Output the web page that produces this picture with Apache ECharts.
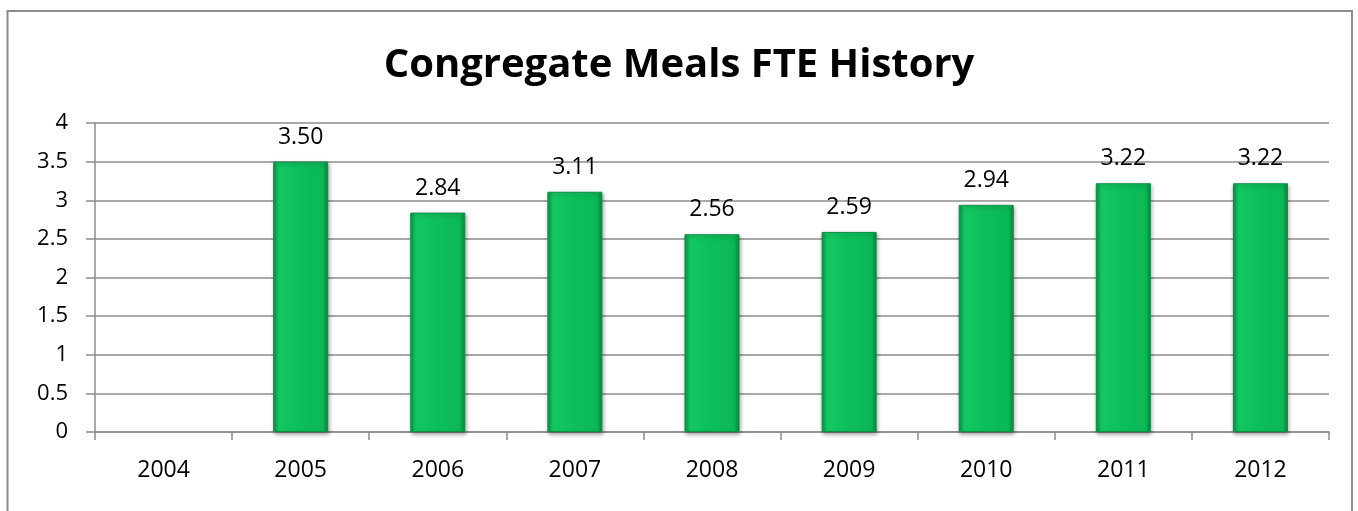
<!DOCTYPE html>
<html>
<head>
<meta charset="utf-8">
<script src="https://cdn.jsdelivr.net/npm/echarts@6/dist/echarts.min.js"></script>
<style>
html,body{margin:0;padding:0;background:#fff;}
#chart{width:1358px;height:511px;}
</style>
</head>
<body>
<div id="chart"></div>
<script>
const titleText = 'Congregate Meals FTE History';
const years = ['2004','2005','2006','2007','2008','2009','2010','2011','2012'];
const fte = [null, 3.50, 2.84, 3.11, 2.56, 2.59, 2.94, 3.22, 3.22];
const yTicks = {min: 0, max: 4, interval: 0.5};

const chart = echarts.init(document.getElementById('chart'));
const FONT = '"Open Sans", "Liberation Sans", sans-serif';
chart.setOption({
  animation: false,
  backgroundColor: '#ffffff',
  graphic: [{
    type: 'rect',
    shape: {x: 7.5, y: 11, width: 1344.5, height: 520},
    style: {fill: 'none', stroke: '#8c8c8c', lineWidth: 2},
    silent: true
  }],
  title: {
    text: titleText,
    left: 'center',
    top: 41,
    textStyle: {fontFamily: FONT, fontSize: 40, fontWeight: 'bold', color: '#000'}
  },
  grid: {left: 95, right: 29, top: 123, bottom: 79, containLabel: false},
  xAxis: {
    type: 'category',
    data: years,
    axisLine: {lineStyle: {color: '#8c8c8c', width: 1.5}},
    axisTick: {show: true, length: 8, alignWithLabel: false, lineStyle: {color: '#8c8c8c', width: 1.5}},
    axisLabel: {fontFamily: FONT, fontSize: 23, color: '#000', margin: 27}
  },
  yAxis: {
    type: 'value',
    min: yTicks.min, max: yTicks.max, interval: yTicks.interval,
    axisLine: {show: true, lineStyle: {color: '#8c8c8c', width: 1.5}},
    axisTick: {show: true, length: 9, lineStyle: {color: '#8c8c8c', width: 1.5}},
    axisLabel: {fontFamily: FONT, fontSize: 22, color: '#000', margin: 27},
    splitLine: {show: true, lineStyle: {color: '#8c8c8c', width: 1.5}}
  },
  series: [{
    type: 'bar',
    data: fte,
    barWidth: 55,
    itemStyle: {
      color: new echarts.graphic.LinearGradient(0, 0, 1, 0, [
        {offset: 0, color: '#0a9447'},
        {offset: 0.1, color: '#13c862'},
        {offset: 0.5, color: '#0dbf5b'},
        {offset: 0.9, color: '#0bb855'},
        {offset: 1, color: '#08893f'}
      ]),
      borderColor: '#0a8f45',
      borderWidth: 1,
      shadowColor: 'rgba(0,0,0,0.35)',
      shadowBlur: 4,
      shadowOffsetX: 1,
      shadowOffsetY: 2
    },
    label: {
      show: true,
      position: 'top',
      distance: 13,
      fontFamily: FONT,
      fontSize: 23,
      color: '#000',
      formatter: p => p.value == null ? '' : Number(p.value).toFixed(2)
    }
  }]
});
</script>
</body>
</html>
